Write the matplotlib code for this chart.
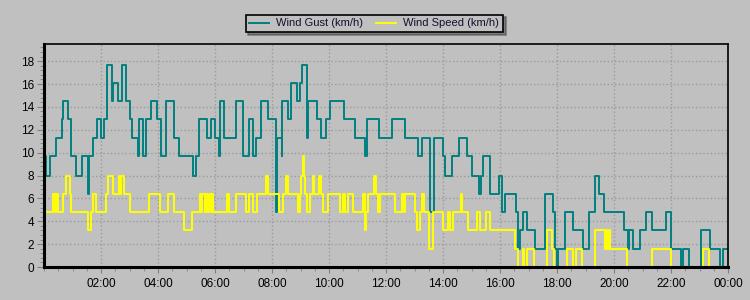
import matplotlib
import numpy as np

matplotlib.use("Agg")
import matplotlib.pyplot as plt
import matplotlib.dates as mdates
from matplotlib.ticker import MultipleLocator

DAY = np.datetime64("2024-01-01T00:00")

# change points (HH:MM) and the value that holds until the next one
gust_times = [
    "00:00", "00:05", "00:12", "00:26", "00:37", "00:40", "00:51", "00:56",
    "00:58", "01:07", "01:19", "01:33", "01:35", "01:44", "01:51", "02:00",
    "02:07", "02:13", "02:23", "02:26", "02:35", "02:44", "02:53", "03:01",
    "03:06", "03:17", "03:20", "03:29", "03:35", "03:45", "03:58", "04:06",
    "04:17", "04:33", "04:44", "05:14", "05:20", "05:27", "05:44", "05:51",
    "06:01", "06:08", "06:10", "06:19", "06:44", "06:58", "07:12", "07:19",
    "07:20", "07:27", "07:36", "07:52", "08:08", "08:10", "08:20", "08:22",
    "08:34", "08:41", "08:53", "08:59", "09:04", "09:13", "09:16", "09:34",
    "09:44", "09:53", "10:02", "10:32", "10:55", "11:16", "11:19", "11:46",
    "12:12", "12:41", "13:08", "13:15", "13:32", "13:40", "14:01", "14:04",
    "14:18", "14:34", "14:50", "15:02", "15:16", "15:20", "15:25", "15:39",
    "15:58", "16:05", "16:11", "16:33", "16:38", "16:42", "16:48", "16:56",
    "17:14", "17:35", "17:51", "17:56", "18:01", "18:03", "18:16", "18:33",
    "18:54", "19:08", "19:20", "19:29", "19:38", "20:21", "20:29", "20:31",
    "20:41", "20:55", "21:07", "21:19", "21:49", "22:01", "22:22", "22:26",
    "22:37", "23:03", "23:22", "23:43", "23:50", "24:00",
]
gust_kmh = [
    9.7, 8.0, 9.7, 11.3, 12.9, 14.5, 12.9, 9.7,
    9.7, 8.0, 9.7, 6.4, 9.7, 11.3, 12.9, 11.3,
    12.9, 17.7, 14.5, 16.1, 14.5, 17.7, 14.5, 12.9,
    11.3, 9.7, 12.9, 9.7, 12.9, 14.5, 12.9, 9.7,
    14.5, 11.3, 9.7, 8.0, 9.7, 12.9, 11.3, 12.9,
    11.3, 9.7, 14.5, 11.3, 14.5, 9.7, 12.9, 11.3,
    9.7, 11.3, 14.5, 12.9, 4.8, 11.3, 9.7, 14.5,
    12.9, 16.1, 14.5, 16.1, 17.7, 11.3, 14.5, 12.9,
    11.3, 12.9, 14.5, 12.9, 11.3, 9.7, 12.9, 11.3,
    12.9, 11.3, 9.7, 11.3, 4.8, 11.3, 9.7, 8.0,
    9.7, 11.3, 9.7, 8.0, 6.4, 8.0, 9.7, 6.4,
    8.0, 4.8, 6.4, 4.8, 1.6, 3.2, 4.8, 3.2,
    1.6, 6.4, 4.8, 1.6, 0.0, 1.6, 4.8, 3.2,
    1.6, 4.8, 8.0, 6.4, 4.8, 3.2, 1.6, 3.2,
    1.6, 3.2, 4.8, 3.2, 4.8, 1.6, 0.0, 1.6,
    0.0, 3.2, 1.6, 0.0, 1.6, 1.6,
]

speed_times = [
    "00:00", "00:19", "00:23", "00:25", "00:29", "00:40", "00:46", "00:54",
    "00:56", "01:33", "01:38", "01:44", "01:49", "02:11", "02:15", "02:25",
    "02:38", "02:40", "02:42", "02:49", "03:00", "03:40", "04:05", "04:20",
    "04:33", "04:54", "05:12", "05:28", "05:31", "05:33", "05:38", "05:40",
    "05:44", "05:47", "05:51", "05:54", "05:56", "06:26", "06:30", "06:44",
    "07:05", "07:12", "07:19", "07:28", "07:47", "07:52", "08:15", "08:24",
    "08:29", "08:33", "08:55", "08:59", "09:02", "09:05", "09:08", "09:10",
    "09:14", "09:20", "09:26", "09:28", "09:39", "09:43", "09:47", "09:57",
    "10:23", "10:29", "10:34", "10:39", "10:51", "11:11", "11:16", "11:18",
    "11:23", "11:35", "11:38", "11:44", "11:47", "12:19", "12:33", "12:38",
    "12:41", "13:01", "13:05", "13:12", "13:16", "13:19", "13:31", "13:38",
    "14:01", "14:11", "14:15", "14:22", "14:37", "14:40", "14:53", "15:11",
    "15:18", "15:31", "15:38", "16:32", "16:37", "16:48", "16:51", "16:56",
    "17:11", "17:38", "17:49", "17:54", "18:20", "18:33", "18:41", "18:52",
    "19:19", "19:41", "19:43", "19:46", "19:49", "19:52", "20:27", "21:19",
    "22:01", "23:08", "23:20", "24:00",
]
speed_kmh = [
    4.8, 6.4, 4.8, 6.4, 4.8, 6.4, 8.0, 6.4,
    4.8, 3.2, 4.8, 6.4, 4.8, 6.4, 8.0, 6.4,
    8.0, 6.4, 8.0, 6.4, 4.8, 6.4, 4.8, 6.4,
    4.8, 3.2, 4.8, 6.4, 4.8, 6.4, 4.8, 6.4,
    4.8, 6.4, 4.8, 6.4, 4.8, 6.4, 4.8, 6.4,
    4.8, 6.4, 4.8, 6.4, 8.0, 6.4, 4.8, 6.4,
    8.0, 6.4, 4.8, 6.4, 8.0, 9.7, 8.0, 6.4,
    4.8, 6.4, 8.0, 6.4, 8.0, 6.4, 4.8, 6.4,
    4.8, 6.4, 4.8, 6.4, 4.8, 6.4, 3.2, 4.8,
    6.4, 8.0, 6.4, 4.8, 6.4, 4.8, 6.4, 4.8,
    6.4, 4.8, 3.2, 4.8, 6.4, 4.8, 1.6, 4.8,
    3.2, 4.8, 3.2, 4.8, 6.4, 4.8, 3.2, 4.8,
    3.2, 4.8, 3.2, 1.6, 0.0, 1.6, 0.0, 1.6,
    0.0, 3.2, 1.6, 0.0, 1.6, 0.0, 1.6, 0.0,
    3.2, 1.6, 3.2, 1.6, 3.2, 1.6, 0.0, 1.6,
    0.0, 1.6, 0.0, 0.0,
]


def to_datetimes(labels):
    mins = []
    for s in labels:
        h, m = s.split(":")
        mins.append(int(h) * 60 + int(m))
    return DAY + np.array(mins, dtype="timedelta64[m]")


BG = "#c0c0c0"
plt.rcParams["font.family"] = ["Liberation Sans", "DejaVu Sans"]
plt.rcParams["font.size"] = 8

fig = plt.figure(figsize=(7.5, 3), dpi=100, facecolor=BG)
ax = fig.add_axes([44 / 750, 33 / 300, 684 / 750, 223 / 300], facecolor=BG)

ax.plot(to_datetimes(gust_times), gust_kmh, drawstyle="steps-post",
        color="#008080", linewidth=1.4, label="Wind Gust (km/h)")
ax.plot(to_datetimes(speed_times), speed_kmh, drawstyle="steps-post",
        color="#ffff00", linewidth=1.4, label="Wind Speed (km/h)")

ax.set_xlim(DAY, DAY + np.timedelta64(24, "h"))
ax.set_ylim(0, 19.5)

ax.set_xticks(DAY + np.arange(2, 25, 2).astype("timedelta64[h]"))
ax.xaxis.set_major_formatter(mdates.DateFormatter("%H:%M"))
ax.xaxis.set_minor_locator(mdates.MinuteLocator(byminute=[0, 30]))
ax.yaxis.set_major_locator(MultipleLocator(2))
ax.yaxis.set_minor_locator(MultipleLocator(0.4))

ax.grid(True, which="major", color="#9a9a9a", linestyle=":", linewidth=1)
ax.tick_params(which="both", color="#808080", labelcolor="black")
ax.tick_params(axis="y", which="major", length=5, pad=2, labelsize=8.5)
ax.tick_params(axis="y", which="minor", length=3)
ax.tick_params(axis="x", which="major", length=4, pad=4, labelsize=8.5)
ax.tick_params(axis="x", which="minor", length=3)

for side in ["left", "bottom"]:
    ax.spines[side].set_linewidth(2.2)
for side in ["top", "right"]:
    ax.spines[side].set_linewidth(1.2)
for spine in ax.spines.values():
    spine.set_color("black")

leg = fig.legend(loc="center", bbox_to_anchor=(0.499, 0.922), ncol=2,
                 fancybox=False, shadow=True, facecolor=BG, edgecolor="black",
                 framealpha=1, handlelength=1.8, handletextpad=0.6,
                 columnspacing=1.2, borderpad=0.35, fontsize=8)
leg.get_frame().set_linewidth(1.2)
for text in leg.get_texts():
    text.set_color("#101030")

fig.savefig("out.png", dpi=100, facecolor=BG)
